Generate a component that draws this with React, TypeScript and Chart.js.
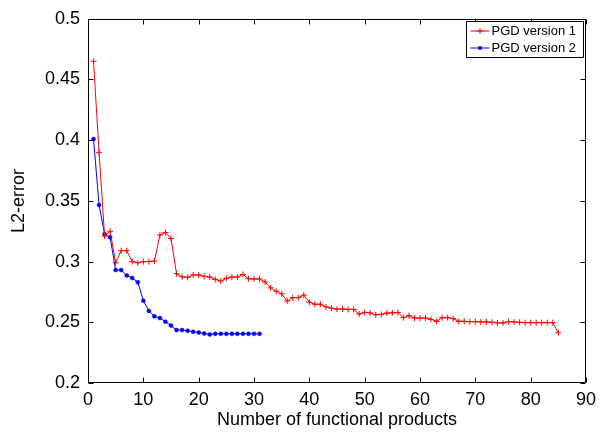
import React, { useEffect, useRef } from "react";
import { Chart, registerables } from "chart.js";

Chart.register(...registerables);

const version1Counts: number[] = Array.from({ length: 85 }, (_, i) => i + 1);
const version2Counts: number[] = Array.from({ length: 31 }, (_, i) => i + 1);

const version1Errors: number[] = [
  0.465, 0.39, 0.321, 0.325, 0.299, 0.309, 0.309, 0.3, 0.299, 0.3,
  0.3, 0.3005, 0.322, 0.324, 0.319, 0.29, 0.2875, 0.287, 0.289, 0.289,
  0.2878, 0.2873, 0.2853, 0.284, 0.2862, 0.2873, 0.2873, 0.2894, 0.2859, 0.2857,
  0.2857, 0.2832, 0.2784, 0.2756, 0.2735, 0.2675, 0.2703, 0.2703, 0.2724, 0.2665,
  0.2649, 0.2649, 0.2627, 0.2616, 0.2608, 0.261, 0.2606, 0.2606, 0.2568, 0.2581,
  0.2578, 0.2562, 0.2565, 0.2576, 0.2578, 0.2581, 0.2538, 0.2554, 0.2535, 0.2535,
  0.2535, 0.2524, 0.2508, 0.2538, 0.2538, 0.253, 0.2508, 0.2508, 0.2505, 0.2505,
  0.2503, 0.2503, 0.25, 0.2495, 0.2495, 0.2505, 0.2503, 0.25, 0.2497, 0.2497,
  0.2497, 0.2497, 0.2497, 0.2497, 0.2414,
];

const version2Errors: number[] = [
  0.401, 0.3467, 0.3226, 0.32, 0.293, 0.293, 0.2886, 0.2865, 0.283, 0.2678,
  0.2594, 0.2549, 0.2535, 0.2505, 0.2473, 0.2436, 0.2436, 0.243, 0.2422, 0.2416,
  0.2408, 0.24, 0.2405, 0.2405, 0.2405, 0.2405, 0.2405, 0.2405, 0.2405, 0.2405,
  0.2405,
];

const seriesLabels: string[] = ["PGD version 1", "PGD version 2"];
const xTickValues: number[] = [0, 10, 20, 30, 40, 50, 60, 70, 80, 90];
const yTickValues: number[] = [0.2, 0.25, 0.3, 0.35, 0.4, 0.45, 0.5];
const yTickLabels: string[] = ["0.2", "0.25", "0.3", "0.35", "0.4", "0.45", "0.5"];
const xTitle = "Number of functional products";
const yTitle = "L2-error";

const FONT = "'Liberation Sans', Arial, Helvetica, sans-serif";

const framePlugin = {
  id: "matlabFrame",
  afterDatasetsDraw(chart: any) {
    const { ctx, chartArea } = chart;
    const xs = chart.scales.x;
    const ys = chart.scales.y;
    const L = Math.round(chartArea.left) + 0.5;
    const R = Math.round(chartArea.right) - 0.5;
    const T = Math.round(chartArea.top) + 0.5;
    const B = Math.round(chartArea.bottom) - 0.5;
    const tl = 5;
    ctx.save();
    ctx.strokeStyle = "#000";
    ctx.lineWidth = 1;
    ctx.beginPath();
    ctx.rect(L, T, R - L, B - T);
    ctx.stroke();
    ctx.beginPath();
    for (const v of xTickValues) {
      const px = Math.round(xs.getPixelForValue(v)) + 0.5;
      ctx.moveTo(px, B);
      ctx.lineTo(px, B - tl);
      ctx.moveTo(px, T);
      ctx.lineTo(px, T + tl);
    }
    for (const v of yTickValues) {
      const py = Math.round(ys.getPixelForValue(v)) + 0.5;
      ctx.moveTo(L, py);
      ctx.lineTo(L + tl, py);
      ctx.moveTo(R, py);
      ctx.lineTo(R - tl, py);
    }
    ctx.stroke();

    // legend box (top-right inside the axes)
    const boxR = Math.round(chartArea.right) - 2.5;
    const boxL = boxR - 117;
    const boxT = Math.round(chartArea.top) + 2.5;
    const boxB = boxT + 36;
    ctx.fillStyle = "#fff";
    ctx.fillRect(boxL, boxT, boxR - boxL, boxB - boxT);
    ctx.beginPath();
    ctx.rect(boxL, boxT, boxR - boxL, boxB - boxT);
    ctx.stroke();
    const rows = [boxT + 9.5, boxT + 26.5];
    chart.data.datasets.forEach((ds: any, i: number) => {
      const y = rows[i];
      const x0 = boxL + 4;
      const x1 = boxL + 23;
      ctx.strokeStyle = ds.borderColor;
      ctx.lineWidth = 1;
      ctx.beginPath();
      ctx.moveTo(x0, y);
      ctx.lineTo(x1, y);
      ctx.stroke();
      const cx = (x0 + x1) / 2;
      if (ds.pointStyle === "cross") {
        ctx.beginPath();
        ctx.moveTo(cx - 3, y);
        ctx.lineTo(cx + 3, y);
        ctx.moveTo(cx, y - 3);
        ctx.lineTo(cx, y + 3);
        ctx.stroke();
      } else {
        ctx.fillStyle = ds.borderColor;
        ctx.beginPath();
        ctx.arc(cx, y, 2, 0, Math.PI * 2);
        ctx.fill();
      }
      ctx.fillStyle = "#000";
      ctx.font = `13px ${FONT}`;
      ctx.textBaseline = "middle";
      ctx.textAlign = "left";
      ctx.fillText(ds.label, boxL + 25, y + 0.5);
    });
    ctx.restore();
  },
};

export default function App() {
  const canvasRef = useRef<HTMLCanvasElement | null>(null);

  useEffect(() => {
    const canvas = canvasRef.current;
    if (!canvas) return;
    const chart = new Chart(canvas, {
      type: "line",
      data: {
        datasets: [
          {
            label: seriesLabels[0],
            data: version1Counts.map((x, i) => ({ x, y: version1Errors[i] })),
            borderColor: "#ff0000",
            backgroundColor: "#ff0000",
            borderWidth: 1,
            pointStyle: "cross",
            pointRadius: 3,
            pointBorderWidth: 1,
            pointBorderColor: "#ff0000",
            tension: 0,
            fill: false,
          },
          {
            label: seriesLabels[1],
            data: version2Counts.map((x, i) => ({ x, y: version2Errors[i] })),
            borderColor: "#0000ff",
            backgroundColor: "#0000ff",
            borderWidth: 1,
            pointStyle: "circle",
            pointRadius: 2,
            pointBorderWidth: 0.5,
            pointBorderColor: "#0000ff",
            tension: 0,
            fill: false,
          },
        ],
      },
      options: {
        animation: false,
        responsive: false,
        devicePixelRatio: 1,
        layout: { padding: { top: 12, right: 10, left: 0, bottom: 0 } },
        plugins: {
          legend: { display: false },
          tooltip: { enabled: false },
        },
        scales: {
          x: {
            type: "linear",
            min: 0,
            max: 90,
            grid: { display: false, drawTicks: false },
            border: { display: false },
            afterFit: (scale: any) => {
              scale.height = 53;
            },
            afterBuildTicks: (scale: any) => {
              scale.ticks = xTickValues.map((v) => ({ value: v }));
            },
            ticks: {
              padding: 6,
              color: "#000",
              font: { family: FONT, size: 18 },
              maxRotation: 0,
              autoSkip: false,
              callback: (v: any) => String(v),
            },
            title: {
              display: true,
              text: xTitle,
              color: "#000",
              font: { family: FONT, size: 18 },
              padding: { top: 0, bottom: 5 },
            },
          },
          y: {
            type: "linear",
            min: 0.2,
            max: 0.5,
            grid: { display: false, drawTicks: false },
            border: { display: false },
            afterFit: (scale: any) => {
              scale.width = 88;
            },
            afterBuildTicks: (scale: any) => {
              scale.ticks = yTickValues.map((v) => ({ value: v }));
            },
            ticks: {
              padding: 8,
              color: "#000",
              font: { family: FONT, size: 18 },
              autoSkip: false,
              callback: (v: any) => {
                const idx = yTickValues.findIndex((t) => Math.abs(t - v) < 1e-6);
                return idx >= 0 ? yTickLabels[idx] : "";
              },
            },
            title: {
              display: true,
              text: yTitle,
              color: "#000",
              font: { family: FONT, size: 18 },
              padding: { top: 8, bottom: 0 },
            },
          },
        },
      },
      plugins: [framePlugin],
    });
    return () => chart.destroy();
  }, []);

  return (
    <div style={{ position: "fixed", left: 0, top: 0, width: 602, height: 436, background: "#fff" }}>
      <canvas ref={canvasRef} width={602} height={436} style={{ display: "block", width: 602, height: 436 }} />
    </div>
  );
}
